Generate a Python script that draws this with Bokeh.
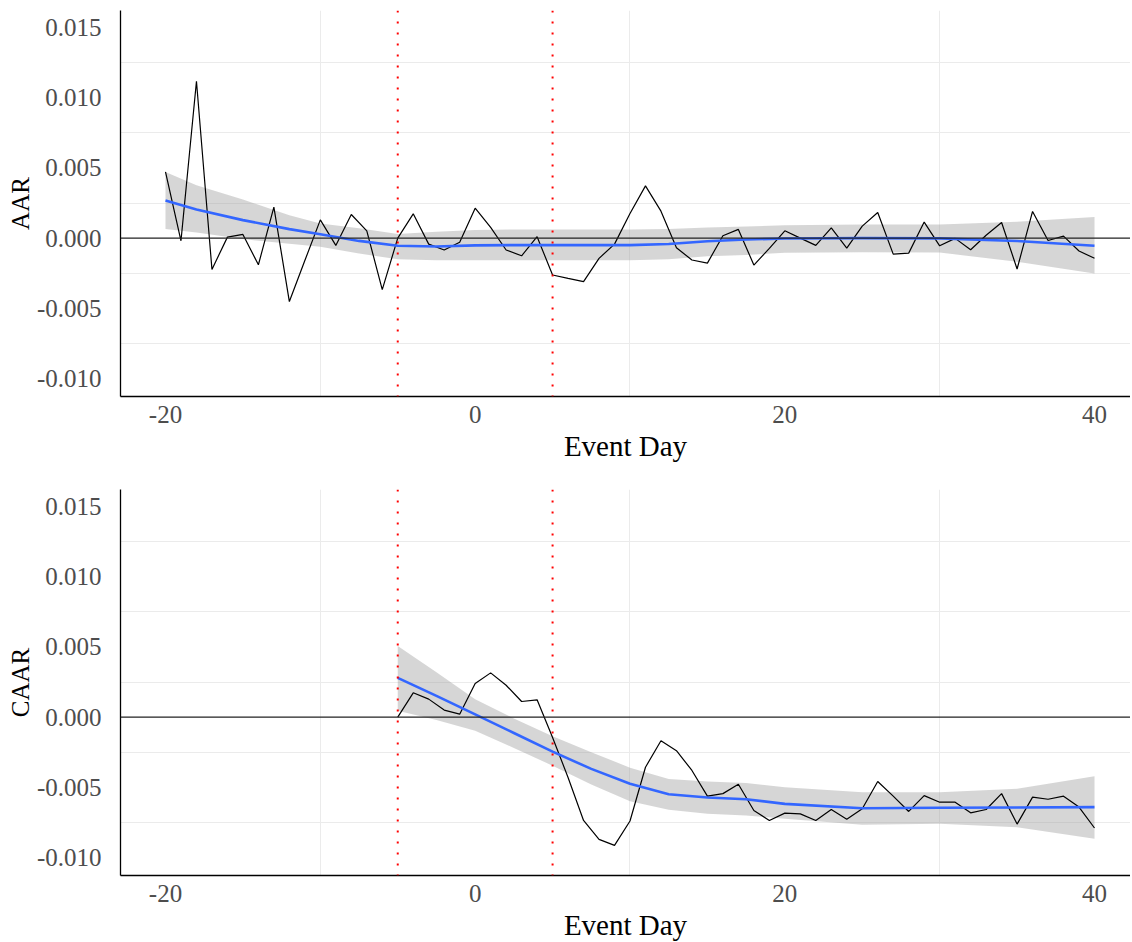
from bokeh.plotting import figure
from bokeh.models import Span, FixedTicker, Range1d, NumeralTickFormatter
from bokeh.layouts import column
from bokeh.embed import file_html
from bokeh.resources import INLINE

# ---- data ----
aar_days = list(range(-20, 41))
aar = [0.00471, -0.00019, 0.01117, -0.00223, 0.00007, 0.00026, -0.0019, 0.0022,
       -0.00452, -0.0016, 0.0013, -0.00052, 0.00168, 0.00052, -0.00367, 0.0,
       0.00173, -0.00043, -0.00085, -0.0003, 0.00213, 0.00076, -0.00085, -0.00126,
       0.0001, -0.00263, -0.00287, -0.0031, -0.00144, -0.00043, 0.00175, 0.00372,
       0.00192, -0.00069, -0.00156, -0.00178, 0.00017, 0.00062, -0.00192, -0.00073,
       0.00052, 0.0, -0.00052, 0.00073, -0.00071, 0.00085, 0.00182, -0.00114,
       -0.00107, 0.00114, -0.00055, -0.00002, -0.00083, 0.0002, 0.00111, -0.0022,
       0.0019, -0.00017, 0.00014, -0.00092, -0.00144]

caar_days = list(range(-5, 41))
caar = [0.0, 0.00173, 0.00128, 0.0005, 0.00021, 0.00239, 0.00315, 0.00227,
        0.00111, 0.00123, -0.00145, -0.0043, -0.00736, -0.00871, -0.00914, -0.0074,
        -0.00357, -0.00168, -0.00239, -0.0038, -0.00563, -0.00545, -0.00478, -0.00665,
        -0.00736, -0.00684, -0.00689, -0.00736, -0.00658, -0.00727, -0.00653, -0.00459,
        -0.00563, -0.00672, -0.00559, -0.00606, -0.00606, -0.00682, -0.00658, -0.00545,
        -0.00762, -0.0057, -0.00585, -0.00563, -0.00641, -0.0079]

# smoother (loess)
aar_fit_x = [-20, -18, -15, -12, -10, -7.5, -5, -2.5, 0, 2.5, 5, 7.5, 10, 12.5,
             15, 17.5, 20, 25, 30, 35, 40]
aar_fit = [0.00268, 0.00204, 0.00128, 0.00064, 0.00028, -0.0002, -0.00055, -0.0006,
           -0.00052, -0.0005, -0.0005, -0.0005, -0.0005, -0.00042, -0.00022, -0.0001,
           -0.00003, 0.0, -0.00002, -0.00021, -0.00055]
aar_hi = [0.00471, 0.00376, 0.00275, 0.00163, 0.00104, 0.0007, 0.0003, 0.00045,
          0.00058, 0.00062, 0.00062, 0.00062, 0.00062, 0.00065, 0.00075, 0.00082,
          0.00092, 0.00097, 0.00097, 0.00116, 0.00151]
aar_lo = [0.00064, 0.0004, -0.00007, -0.0004, -0.00062, -0.0011, -0.0015, -0.00157,
          -0.00157, -0.00157, -0.00157, -0.00157, -0.00157, -0.0015, -0.0013, -0.0012,
          -0.00104, -0.001, -0.00103, -0.00168, -0.00253]

caar_fit_x = [-5, -2.5, 0, 2.5, 5, 7.5, 10, 12.5, 15, 17.5, 20, 25, 30, 35, 40]
caar_fit = [0.00279, 0.00151, 0.00019, -0.00113, -0.00246, -0.00369, -0.00475, -0.0055,
            -0.00573, -0.00585, -0.00618, -0.00649, -0.00646, -0.00644, -0.00641]
caar_hi = [0.00506, 0.0032, 0.00128, -0.0001, -0.00137, -0.0025, -0.0036, -0.0044,
           -0.00459, -0.0047, -0.005, -0.00535, -0.00535, -0.00511, -0.00421]
caar_lo = [0.00045, -0.0002, -0.00097, -0.0022, -0.00346, -0.0048, -0.006, -0.0066,
           -0.00689, -0.007, -0.00724, -0.00767, -0.0076, -0.00784, -0.00866]

x_ticks = [-20, 0, 20, 40]
x_minor = [-10, 10, 30]
y_ticks = [-0.010, -0.005, 0.0, 0.005, 0.010, 0.015]
y_minor = [-0.0075, -0.0025, 0.0025, 0.0075, 0.0125]
event_window = [-5, 5]

FONT = "Liberation Serif"
FH = 386
Y_SCALE = (FH - 35) / 0.025
X0, X1 = -22.906, 42.325
Y0, Y1 = -0.010 - 18 / Y_SCALE, 0.015 + 17 / Y_SCALE


def make_panel(ylabel, xd, yd, fx, fy, flo, fhi, border_top, border_bottom):
    p = figure(frame_width=1010, frame_height=FH,
               x_range=Range1d(X0, X1), y_range=Range1d(Y0, Y1),
               output_backend="svg", toolbar_location=None,
               min_border_left=120, min_border_right=0,
               min_border_top=border_top, min_border_bottom=border_bottom)
    p.outline_line_color = None
    p.xaxis.ticker = FixedTicker(ticks=x_ticks)
    p.yaxis.ticker = FixedTicker(ticks=y_ticks)
    p.xaxis.formatter = NumeralTickFormatter(format="0")
    p.yaxis.formatter = NumeralTickFormatter(format="0.000")
    p.xgrid.ticker = FixedTicker(ticks=x_minor)
    p.ygrid.ticker = FixedTicker(ticks=y_minor)
    for g in (p.xgrid, p.ygrid):
        g.grid_line_color = "#EBEBEB"
        g.grid_line_width = 1
    for ax in (p.xaxis, p.yaxis):
        ax.axis_line_color = "black"
        ax.axis_line_width = 1.3
        ax.major_tick_line_color = None
        ax.minor_tick_line_color = None
        ax.major_tick_out = 0
        ax.major_tick_in = 0
        ax.minor_tick_out = 0
        ax.minor_tick_in = 0
        ax.major_label_text_font = FONT
        ax.major_label_text_font_size = "25px"
        ax.major_label_text_color = "#4D4D4D"
        ax.axis_label_text_font = FONT
        ax.axis_label_text_font_style = "normal"
        ax.axis_label_text_color = "black"
    p.yaxis.axis_label_text_font_size = "25px"
    p.yaxis.axis_label = ylabel
    p.yaxis.major_label_standoff = 19
    p.yaxis.axis_label_standoff = 0
    p.xaxis.axis_label = "Event Day"
    p.xaxis.axis_label_text_font_size = "29px"
    p.xaxis.major_label_standoff = 9
    p.xaxis.axis_label_standoff = 4

    p.varea(x=fx, y1=flo, y2=fhi, fill_color="#999999", fill_alpha=0.4)
    p.add_layout(Span(location=0, dimension="width", line_color="#222222", line_width=1.1))
    p.line(xd, yd, line_color="black", line_width=1.2)
    p.line(fx, fy, line_color="#3366FF", line_width=2.6, line_join="round")
    for loc in event_window:
        p.add_layout(Span(location=loc, dimension="height", line_color="#FF0000",
                          line_width=2, line_dash="2 9"))
    return p


p1 = make_panel("AAR", aar_days, aar, aar_fit_x, aar_fit, aar_lo, aar_hi, 10, 93)
p2 = make_panel("CAAR", caar_days, caar, caar_fit_x, caar_fit, caar_lo, caar_hi, 0, 40)

layout = column(p1, p2)
open("out.html", "w").write(file_html(layout, INLINE))
